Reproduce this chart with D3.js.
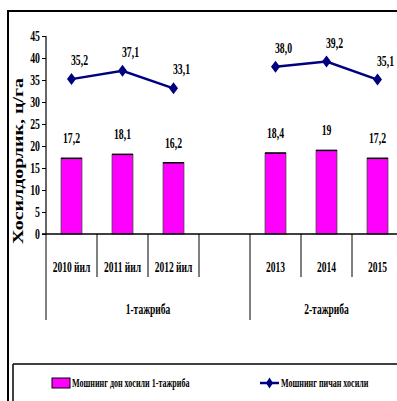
<!DOCTYPE html>
<html>
<head>
<meta charset="utf-8">
<script src="https://cdn.jsdelivr.net/npm/d3@7"></script>
<style>
  body { margin: 0; background: #fff; }
  svg { display: block; }
  text { font-family: "Liberation Serif", "Times New Roman", serif; font-weight: bold; fill: #000; }
</style>
</head>
<body>
<svg id="chart" width="397" height="401"></svg>
<script>
// Years (the empty slot separates the two experiments)
const categories = ["2010 йил", "2011 йил", "2012 йил", "", "2013", "2014", "2015"];
// Experiment groups and how many slots each spans
const groupNames = ["1-тажриба", "2-тажриба"];
const groupSizes = [4, 3];
// Grain yield (bars) and hay yield (line), ц/га
const grainYield = [17.2, 18.1, 16.2, null, 18.4, 19, 17.2];
const hayYield = [35.2, 37.1, 33.1, null, 38.0, 39.2, 35.1];
const yTicks = [0, 5, 10, 15, 20, 25, 30, 35, 40, 45];
const seriesNames = ["Мошнинг дон хосили 1-тажриба", "Мошнинг пичан хосили"];
const yTitle = "Хосилдорлик, ц/га";

const svg = d3.select("#chart");
const SX = 0.7; // condensed lettering

function label(g, x, y, txt, size, anchor, sx = SX) {
  return g.append("text")
    .attr("transform", `translate(${x},${y}) scale(${sx},1)`)
    .attr("text-anchor", anchor || "middle")
    .attr("font-size", size)
    .text(txt);
}

const x = d3.scaleBand().domain(d3.range(categories.length)).range([46, 403]).padding(0);
const y = d3.scaleLinear().domain([0, 45]).range([234, 36]);
const barW = x.bandwidth() * 0.41;
const cx = i => x(i) + x.bandwidth() / 2;

// outer frame
svg.append("line").attr("x1", 8).attr("x2", 8).attr("y1", 10).attr("y2", 401)
  .attr("stroke", "#000").attr("stroke-width", 2);
svg.append("line").attr("x1", 7).attr("x2", 397).attr("y1", 11).attr("y2", 11)
  .attr("stroke", "#000").attr("stroke-width", 2);

// y axis
const yAxis = svg.append("g").attr("transform", "translate(46,0)")
  .call(d3.axisLeft(y).tickValues(yTicks).tickSize(4).tickFormat(""));
yAxis.select(".domain").attr("stroke", "#000").attr("stroke-width", 1.2).attr("d", `M0,${y(45)}V${y(0)}`);
yAxis.selectAll(".tick line").attr("stroke", "#000");
yTicks.forEach(t => label(svg, 40, y(t) + 5, String(t), 14, "end"));

// y title
svg.append("text")
  .attr("transform", `translate(23,${161}) rotate(-90)`)
  .attr("text-anchor", "middle")
  .attr("font-size", 15)
  .attr("textLength", 166)
  .attr("lengthAdjust", "spacingAndGlyphs")
  .text(yTitle);

// bars
const barIdx = d3.range(categories.length).filter(i => grainYield[i] != null);
svg.append("g").selectAll("rect").data(barIdx).join("rect")
  .attr("x", i => cx(i) - barW / 2)
  .attr("y", i => y(grainYield[i]))
  .attr("width", barW)
  .attr("height", i => y(0) - y(grainYield[i]))
  .attr("fill", "#ff00ff")
  .attr("stroke", "#444")
  .attr("stroke-width", 0.8);
svg.append("g").selectAll("line").data(barIdx).join("line")
  .attr("x1", i => cx(i) - barW / 2).attr("x2", i => cx(i) + barW / 2)
  .attr("y1", i => y(grainYield[i])).attr("y2", i => y(grainYield[i]))
  .attr("stroke", "#000").attr("stroke-width", 1.5);
barIdx.forEach(i => label(svg, cx(i), y(grainYield[i]) - 15,
  String(grainYield[i]).replace(".", ","), 15, "middle", 0.65));

// x axis baseline
svg.append("line").attr("x1", 42).attr("x2", 397).attr("y1", y(0)).attr("y2", y(0))
  .attr("stroke", "#000").attr("stroke-width", 1.3);

// category dividers and labels
const groupEdges = [0];
groupSizes.forEach(s => groupEdges.push(groupEdges[groupEdges.length - 1] + s));
d3.range(categories.length + 1).forEach(i => {
  const xp = i < categories.length ? x(i) : 403;
  const isGroup = groupEdges.includes(i);
  svg.append("line").attr("x1", xp).attr("x2", xp)
    .attr("y1", y(0)).attr("y2", isGroup ? 320 : 277)
    .attr("stroke", "#000").attr("stroke-width", 1);
});
categories.forEach((c, i) => { if (c) label(svg, cx(i), 272, c, 14, "middle", 0.68); });
groupNames.forEach((g, k) => {
  const a = x(groupEdges[k]);
  const b = groupEdges[k + 1] < categories.length ? x(groupEdges[k + 1]) : 403;
  label(svg, (a + b) / 2, 314, g, 14, "middle", 0.68);
});

// hay yield line
const navy = "#000080";
const line = d3.line().defined(i => hayYield[i] != null).x(i => cx(i)).y(i => y(hayYield[i]));
svg.append("path").datum(d3.range(categories.length)).attr("d", line)
  .attr("fill", "none").attr("stroke", navy).attr("stroke-width", 2.5);
const diamond = (px, py, w, h) => `M${px},${py - h / 2}L${px + w / 2},${py}L${px},${py + h / 2}L${px - w / 2},${py}Z`;
const ptIdx = d3.range(categories.length).filter(i => hayYield[i] != null);
svg.append("g").selectAll("path").data(ptIdx).join("path")
  .attr("d", i => diamond(cx(i), y(hayYield[i]), 9, 12))
  .attr("fill", navy);
ptIdx.forEach(i => label(svg, cx(i) + 8, y(hayYield[i]) - 14,
  hayYield[i].toFixed(1).replace(".", ","), 15, "middle", 0.65));

// legend
svg.append("line").attr("x1", 13).attr("x2", 397).attr("y1", 364).attr("y2", 364)
  .attr("stroke", "#000").attr("stroke-width", 1.5);
svg.append("line").attr("x1", 13).attr("x2", 13).attr("y1", 364).attr("y2", 401)
  .attr("stroke", "#000").attr("stroke-width", 1.5);
svg.append("rect").attr("x", 52).attr("y", 378).attr("width", 18).attr("height", 10)
  .attr("fill", "#ff00ff").attr("stroke", "#000").attr("stroke-width", 1);
label(svg, 72, 387, seriesNames[0], 13, "start", 0.62);
svg.append("line").attr("x1", 260).attr("x2", 279).attr("y1", 383).attr("y2", 383)
  .attr("stroke", navy).attr("stroke-width", 2.5);
svg.append("path").attr("d", diamond(269.5, 383, 7, 11)).attr("fill", navy);
label(svg, 281, 387, seriesNames[1], 13, "start", 0.62);
</script>
</body>
</html>
